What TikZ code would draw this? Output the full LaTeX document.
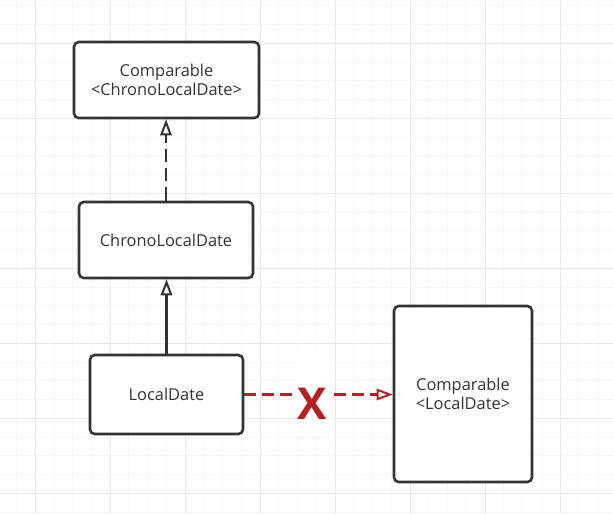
\documentclass[tikz,border=0pt]{standalone}
\usepackage{fontspec}
\setmainfont{Open Sans}
\usetikzlibrary{arrows.meta}

\begin{document}
\begin{tikzpicture}[x=0.75pt,y=-0.75pt,
    umlbox/.style={draw=boxline, line width=1.9pt, rounded corners=3.5pt, fill=white,
        align=center, text=boxtext, inner sep=0pt, font=\fontsize{12.3}{14.5}\selectfont},
    realize/.style={draw=boxline, line width=1.9pt, dash pattern=on 10pt off 4.5pt,
        -{Triangle[open, length=12pt, width=8.5pt, line width=1.5pt]}},
    extend/.style={draw=boxline, line width=1.9pt,
        -{Triangle[open, length=12pt, width=8.5pt, line width=1.5pt]}},
    nolink/.style={draw=cross, line width=1.9pt, dash pattern=on 9pt off 4.5pt,
        -{Triangle[open, length=12pt, width=8.5pt, line width=1.5pt]}},
    gridminor/.style={draw=minorgrid, line width=0.75pt},
    gridmajor/.style={draw=majorgrid, line width=0.75pt}]
    % Colours
    \definecolor{boxline}{RGB}{51,51,51}
    \definecolor{boxtext}{RGB}{51,51,51}
    \definecolor{cross}{RGB}{183,32,32}
    \definecolor{minorgrid}{RGB}{245,245,245}
    \definecolor{majorgrid}{RGB}{232,232,232}

    \useasboundingbox (0,0) rectangle (613,514);
    \fill[white] (0,0) rectangle (613,514);

    % Background grid
    \foreach \i in {-1,...,30} {
        \draw[gridminor] ({35+18.75*\i},0) -- ({35+18.75*\i},514);
    }
    \foreach \j in {-2,...,25} {
        \draw[gridminor] (0,{43.33+18.75*\j}) -- (613,{43.33+18.75*\j});
    }
    \foreach \i in {0,...,7} {
        \draw[gridmajor] ({35+75*\i},0) -- ({35+75*\i},514);
    }
    \foreach \j in {0,...,6} {
        \draw[gridmajor] (0,{43.33+75*\j}) -- (613,{43.33+75*\j});
    }

    % Classes and interfaces
    \node[umlbox, minimum width=138.75pt, minimum height=57pt] (cmpchrono) at (166.5,80)
        {Comparable\\<ChronoLocalDate>};
    \node[umlbox, minimum width=130.5pt, minimum height=57pt] (chrono) at (166,240)
        {ChronoLocalDate};
    \node[umlbox, minimum width=114.75pt, minimum height=59.25pt] (localdate) at (166.5,394.5)
        {LocalDate};
    \node[umlbox, minimum width=103.5pt, minimum height=132pt] (cmplocal) at (463,394)
        {Comparable\\<LocalDate>};

    % Relations
    \draw[realize] (chrono.north) -- (chrono.north |- cmpchrono.south);
    \draw[extend] (localdate.north) -- (localdate.north |- chrono.south);
    \draw[nolink] (localdate.east) -- node[pos=0.46, fill=white, text=cross, inner xsep=2pt, inner ysep=13pt,
        text height=36.9pt, text depth=0pt, font=\fontsize{33}{33}\selectfont\bfseries] (cross) {X}
        (localdate.east -| cmplocal.west);
\end{tikzpicture}
\end{document}
